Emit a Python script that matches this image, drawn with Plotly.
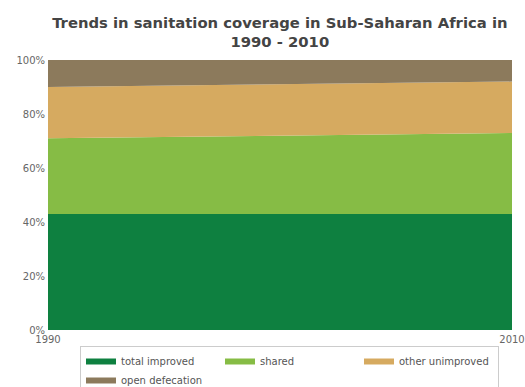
import plotly.graph_objects as go

years = [1990, 2010]
series_names = ["total improved", "shared", "other unimproved", "open defecation"]
total_improved = [43, 43]
shared = [28, 30]
other_unimproved = [19, 19]
open_defecation = [10, 8]
y_ticks = [0, 20, 40, 60, 80, 100]
y_tick_labels = ["0%", "20%", "40%", "60%", "80%", "100%"]

colors = ["#0e8040", "#86bc45", "#d6aa60", "#8c7a5c"]
values = [total_improved, shared, other_unimproved, open_defecation]

fig = go.Figure()
for name, vals, c in zip(series_names, values, colors):
    fig.add_trace(go.Scatter(
        x=years, y=vals, name=name, stackgroup="one", mode="none",
        fillcolor=c, line=dict(width=0, color=c),
    ))

fig.update_layout(
    width=525, height=387,
    margin=dict(l=48, r=13, t=60, b=57, autoexpand=False),
    paper_bgcolor="white", plot_bgcolor="white",
    font=dict(family="DejaVu Sans", size=10, color="#666666"),
    title=dict(
        text="Trends in sanitation coverage in Sub-Saharan Africa in<br>1990 - 2010",
        x=0.533, xanchor="center", y=0.928, yanchor="top",
        font=dict(family="DejaVu Sans", size=14.8, color="#444444", weight="bold"),
    ),
    xaxis=dict(range=[1990, 2010], tickvals=years, ticktext=[str(y) for y in years],
               showgrid=False, zeroline=False, showline=False, ticks="",
               ticklabelstandoff=2,
               tickfont=dict(size=10, color="#666666")),
    yaxis=dict(range=[0, 100], tickvals=y_ticks, ticktext=y_tick_labels,
               showgrid=False, zeroline=False, showline=False, ticks="",
               ticklabelstandoff=2,
               tickfont=dict(size=10, color="#666666")),
    legend=dict(
        orientation="h", x=80 / 525, xref="container", xanchor="left",
        y=1 - 346 / 387, yref="container", yanchor="top",
        entrywidth=94, entrywidthmode="pixels",
        bordercolor="#cccccc", borderwidth=1,
        font=dict(size=10, color="#555555"),
        traceorder="normal", itemwidth=30, tracegroupgap=0,
    ),
)

fig.write_html("out.html")
